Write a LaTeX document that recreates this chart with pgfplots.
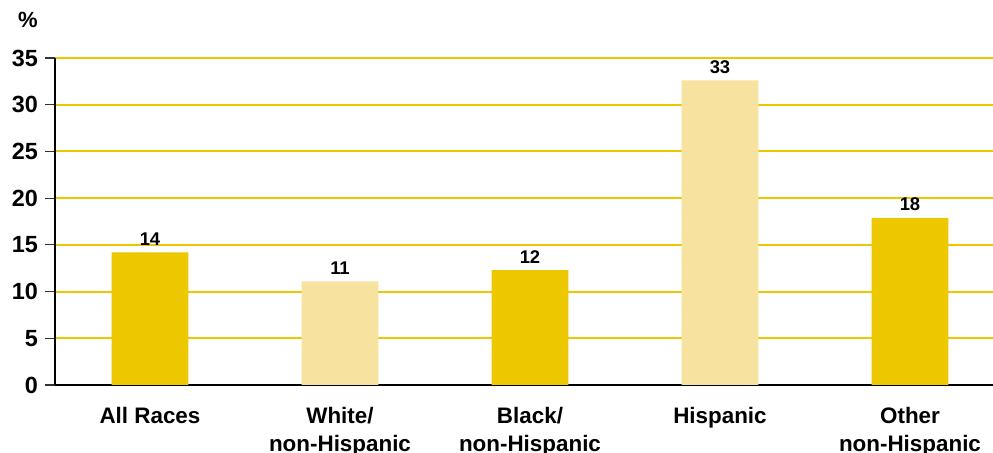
\documentclass[border=0pt]{standalone}
\usepackage{fontspec}
\setmainfont{Liberation Sans}
\usepackage{pgfplots}
\pgfplotsset{compat=1.18}
\definecolor{gold}{RGB}{237,199,0}
\definecolor{lightgold}{RGB}{247,226,160}
\begin{document}
\begin{tikzpicture}
\begin{axis}[
  scale only axis,
  width=469pt, height=163.5pt,
  xmin=-0.5, xmax=4.437,
  ymin=0, ymax=35,
  ytick={0,5,...,35},
  ymajorgrids,
  grid style={gold, line width=1pt},
  axis x line*=bottom, axis y line*=left,
  axis line style={black, line width=1.1pt, -},
  /pgf/number format/assume math mode=true,
  tick align=outside,
  major tick length=5pt,
  ytick style={black!80, line width=0.6pt},
  yticklabel style={font=\fontsize{11.7}{13}\selectfont\bfseries},
  xtick={0,1,2,3,4},
  xticklabels={All Races, White/\\non-Hispanic, Black/\\non-Hispanic, Hispanic, Other\\non-Hispanic},
  xticklabel style={align=center, yshift=-2.5pt, font=\fontsize{11.2}{14}\selectfont\bfseries},
  major x tick style={draw=none},
  extra x ticks={-0.5,0.5,1.5,2.5,3.5},
  extra x tick labels={},
  extra x tick style={major tick length=4pt, tick style={black, line width=0.6pt}},
  ybar, bar width=0.405,
  nodes near coords={\pgfmathprintnumber[fixed,precision=0]{\pgfplotspointmeta}},
  every node near coord/.append style={font=\fontsize{9.2}{10}\selectfont\bfseries, black},
]
\addplot[bar shift=0pt, fill=gold, draw=none] coordinates {(0,14.2) (2,12.3) (4,17.9)};
\addplot[bar shift=0pt, fill=lightgold, draw=none] coordinates {(1,11.1) (3,32.6)};
\end{axis}
\node[font=\fontsize{11}{13}\selectfont\bfseries] at ([shift={(-13.5pt,19pt)}]current axis.north west) {\%};
\pgfresetboundingbox
\path ([shift={(-27.5pt,-34pt)}]current axis.south west) rectangle ([shift={(0pt,29pt)}]current axis.north east);
\end{tikzpicture}
\end{document}
